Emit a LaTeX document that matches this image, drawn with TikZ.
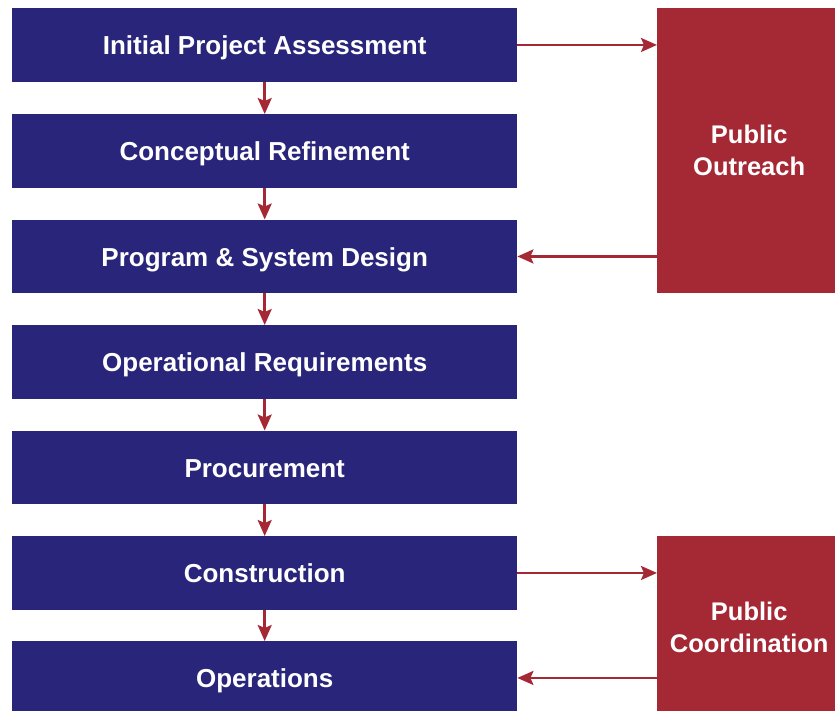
\documentclass[tikz,border=0pt]{standalone}
\usepackage{fontspec}
\setmainfont{Liberation Sans}
\usetikzlibrary{arrows.meta}
\definecolor{stepblue}{HTML}{29257A}
\definecolor{pubred}{HTML}{A52835}
\begin{document}
\begin{tikzpicture}[x=1pt,y=-1pt,
  stepbox/.style={fill=stepblue,draw=none,text=white,font=\bfseries\fontsize{26}{30}\selectfont,minimum width=505pt,minimum height=73.5pt,inner sep=0pt,text height=20pt,text depth=0pt,anchor=north west},
  pubbox/.style={fill=pubred,draw=none,text=white,font=\bfseries\fontsize{25.5}{32.5}\selectfont,align=center,inner sep=0pt,anchor=north west,minimum width=178pt},
  conn/.style={draw=pubred,line width=2.5pt,-{Stealth[length=16pt,width=14pt,inset=3pt]}}]
\useasboundingbox (0,0) rectangle (835,710);
\begin{scope}
\clip (0,0) rectangle (835,710);
\node[stepbox] (s1) at (12,8) {Initial Project Assessment};
\node[stepbox] (s2) at (12,114) {Conceptual Refinement};
\node[stepbox] (s3) at (12,219.5) {Program \& System Design};
\node[stepbox] (s4) at (12,325) {Operational Requirements};
\node[stepbox] (s5) at (12,430.5) {Procurement};
\node[stepbox] (s6) at (12,536) {Construction};
\node[stepbox] (s7) at (12,641) {Operations};
\node[pubbox,minimum height=284.5pt] (p1) at (657,8) {\hspace*{6pt}Public\\\hspace*{6pt}Outreach};
\node[pubbox,minimum height=182pt] (p2) at (657,536) {\hspace*{6pt}Public\\\hspace*{6pt}Coordination};
\end{scope}
\foreach \a/\b in {s1/s2,s2/s3,s3/s4,s4/s5,s5/s6,s6/s7}
  \draw[conn] (\a.south) -- (\b.north);
\draw[conn] (s1.east) -- (p1.west |- s1.east);
\draw[conn] (p1.west |- s3.east) -- (s3.east);
\draw[conn] (s6.east) -- (p2.west |- s6.east);
\draw[conn] (p2.west |- s7.east) -- (s7.east);
\end{tikzpicture}
\end{document}
